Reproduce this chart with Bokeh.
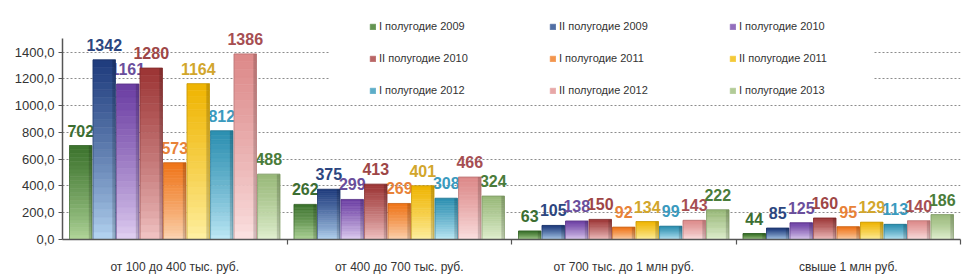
import numpy as np
from bokeh.plotting import figure
from bokeh.models import ColumnDataSource, FixedTicker, Legend, LegendItem, BoxAnnotation, Range1d
from bokeh.core.properties import value
from bokeh.embed import file_html
from bokeh.resources import INLINE

# ---------------- data ----------------
categories = ["от 100 до 400 тыс. руб.", "от 400 до 700 тыс. руб.",
              "от 700 тыс. до 1 млн руб.", "свыше 1 млн руб."]
series_names = ["I полугодие 2009", "II полугодие 2009", "I полугодие 2010",
                "II полугодие 2010", "I полугодие 2011", "II полугодие 2011",
                "I полугодие 2012", "II полугодие 2012", "I полугодие 2013"]
h1_2009 = [702, 262, 63, 44]
h2_2009 = [1342, 375, 105, 85]
h1_2010 = [1161, 299, 138, 125]
h2_2010 = [1280, 413, 150, 160]
h1_2011 = [573, 269, 92, 95]
h2_2011 = [1164, 401, 134, 129]
h1_2012 = [812, 308, 99, 113]
h2_2012 = [1386, 466, 143, 140]
h1_2013 = [488, 324, 222, 186]
series_values = [h1_2009, h2_2009, h1_2010, h2_2010, h1_2011, h2_2011, h1_2012, h2_2012, h1_2013]
y_ticks = [0, 200, 400, 600, 800, 1000, 1200, 1400]
y_tick_labels = ["0,0", "200,0", "400,0", "600,0", "800,0", "1000,0", "1200,0", "1400,0"]

# ---------------- styles ----------------
top_colors = ["#3b722c", "#1d3a7c", "#6a3ca2", "#9c3434", "#ef7418", "#efb400",
              "#2a8eb0", "#dc8888", "#98b878"]
bottom_colors = ["#b4d89c", "#b8d8f4", "#e4d4f4", "#f4c8c8", "#fcd8b8", "#fff2a8",
                 "#c4ecf8", "#fce4e4", "#e4f2d4"]
label_colors = ["#3c6e32", "#2c4680", "#6a4e9c", "#9e4646", "#e88238", "#d2a62c",
                "#3a9abe", "#a64e52", "#4a7c3a"]
FONT = "Liberation Sans"

PITCH = 0.1047
BAR_W = 0.1
N_SEG = 24


def hex2rgb(h):
    h = h.lstrip("#")
    return np.array([int(h[i:i + 2], 16) for i in (0, 2, 4)], dtype=float)


def mix(c1, c2, t):
    c = hex2rgb(c1) * (1 - t) + hex2rgb(c2) * t
    return "#%02x%02x%02x" % tuple(int(round(v)) for v in c)


p = figure(width=975, height=277, output_backend="svg", toolbar_location=None, title=None,
           x_range=Range1d(0, 4), y_range=Range1d(0, 1785),
           min_border_left=62, min_border_right=15, min_border_top=0, min_border_bottom=38)
p.background_fill_color = "white"
p.border_fill_color = "white"
p.outline_line_color = None

centers = np.arange(len(categories)) + 0.5

# white area behind the legend (hides the grid there)
p.add_layout(BoxAnnotation(left=1.19, right=3.61, bottom=1040, fill_color="white",
                           fill_alpha=1.0, line_color=None, level="underlay"))

# labels first (bars are drawn over them, as in the original)
for j, vals in enumerate(series_values):
    xs = centers + (j - 4) * PITCH
    src = ColumnDataSource(dict(x=xs, y=vals, t=[str(v) for v in vals]))
    p.text(x="x", y="y", text="t", source=src, text_align="center", text_baseline="alphabetic",
           y_offset=-15, text_font=value(FONT), text_font_style="bold", text_font_size="16px",
           text_color=label_colors[j])

legend_renderers = []
for j, vals in enumerate(series_values):
    xs = centers + (j - 4) * PITCH
    vals = np.array(vals, dtype=float)
    rep = None
    for k in range(N_SEG):
        t = (k + 0.5) / N_SEG
        col = mix(bottom_colors[j], top_colors[j], t ** 0.8)
        src = ColumnDataSource(dict(x=xs, b=vals * k / N_SEG, t=vals * (k + 1) / N_SEG))
        r = p.vbar(x="x", bottom="b", top="t", width=BAR_W, source=src,
                   fill_color=col, line_color=col, line_width=0.6)
        if k == int(N_SEG * 0.6):
            rep = r
    # right-side shading (3D look)
    src = ColumnDataSource(dict(x=xs + BAR_W / 2 - 0.007, t=vals))
    p.vbar(x="x", bottom=0, top="t", width=0.014, source=src, fill_color="#000000",
           fill_alpha=0.16, line_color=None)
    # outline / edge
    src = ColumnDataSource(dict(x=xs, t=vals))
    p.vbar(x="x", bottom=0, top="t", width=BAR_W, source=src, fill_alpha=0,
           line_color=mix(top_colors[j], "#000000", 0.25), line_alpha=0.5, line_width=1)
    legend_renderers.append(rep)

legend = Legend(items=[LegendItem(label=n, renderers=[r]) for n, r in zip(series_names, legend_renderers)],
                location=(307, 142), orientation="horizontal", ncols=3,
                glyph_width=7, glyph_height=7, label_standoff=3, label_width=152,
                label_height=14, spacing=18, padding=0, margin=0,
                border_line_color=None, background_fill_alpha=0,
                label_text_font=FONT, label_text_font_size="11px", label_text_color="#333333")
p.add_layout(legend, "center")

# axes
xa = p.xaxis[0]
xa.ticker = FixedTicker(ticks=list(centers), minor_ticks=[1, 2, 3, 4])
xa.major_label_overrides = {float(c): cat for c, cat in zip(centers, categories)}
xa.major_tick_line_color = None
xa.major_tick_out = 0
xa.major_tick_in = 0
xa.minor_tick_out = 5
xa.minor_tick_in = 0
xa.minor_tick_line_color = "#555555"
xa.minor_tick_line_width = 1.2
xa.major_label_standoff = 15
xa.major_label_text_font = FONT
xa.major_label_text_font_size = "12px"
xa.major_label_text_color = "#333333"
xa.axis_line_color = "#555555"
xa.axis_line_width = 1.5

ya = p.yaxis[0]
ya.ticker = FixedTicker(ticks=y_ticks, minor_ticks=[])
ya.major_label_overrides = {t: l for t, l in zip(y_ticks, y_tick_labels)}
ya.bounds = (0, 1500)
ya.major_tick_out = 4
ya.major_tick_in = 0
ya.major_tick_line_color = "#555555"
ya.minor_tick_line_color = None
ya.major_label_standoff = 4
ya.major_label_text_font = FONT
ya.major_label_text_font_size = "13px"
ya.major_label_text_color = "#333333"
ya.axis_line_color = "#555555"
ya.axis_line_width = 1.5

p.xgrid.visible = False
p.ygrid.grid_line_color = "#8c8c8c"
p.ygrid.grid_line_dash = "2 2"
p.ygrid.grid_line_width = 1

open("out.html", "w").write(file_html(p, INLINE))
